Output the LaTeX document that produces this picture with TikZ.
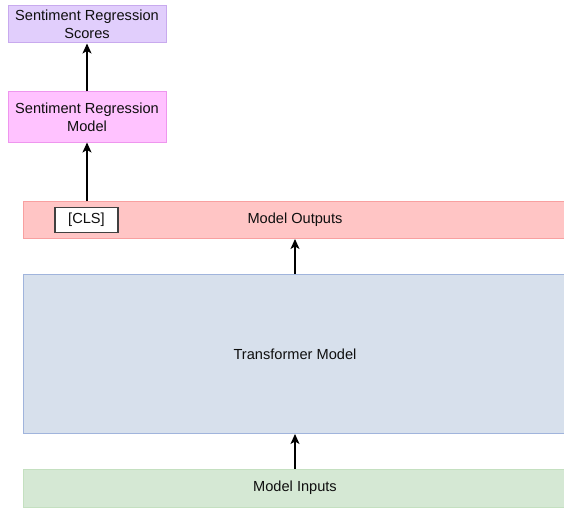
\documentclass[tikz,border=0pt]{standalone}
\usepackage{fontspec}
\setmainfont{Liberation Sans}
\usetikzlibrary{arrows.meta}
\definecolor{purfill}{RGB}{225,206,252}
\definecolor{purline}{RGB}{200,170,238}
\definecolor{pinkfill}{RGB}{255,194,255}
\definecolor{pinkline}{RGB}{238,150,238}
\definecolor{redfill}{RGB}{255,197,197}
\definecolor{redline}{RGB}{248,160,160}
\definecolor{bluefill}{RGB}{215,224,236}
\definecolor{blueline}{RGB}{160,180,220}
\definecolor{greenfill}{RGB}{213,232,212}
\definecolor{greenline}{RGB}{196,224,192}
\definecolor{txt}{RGB}{15,15,15}
\tikzset{
  box/.style={rectangle, draw, line width=1pt, inner sep=0pt, align=center,
    text=txt, font=\fontsize{14.6}{18}\selectfont},
  clsbox/.style={rectangle, draw=black!75, fill=white, line width=1.3pt, inner sep=0pt,
    text=txt, font=\fontsize{14.6}{18}\selectfont},
  conn/.style={-{Stealth[length=10pt,width=9pt,inset=2.5pt]}, line width=1.2pt, black},
}
\begin{document}
\begin{tikzpicture}[x=1pt,y=-1pt]
\useasboundingbox (0,0) rectangle (564,508);
\clip (0,0) rectangle (564,508);
\fill[white] (0,0) rectangle (564,508);
\node[box, fill=purfill, draw=purline, minimum width=158pt, minimum height=37pt] (scores) at (87,24.5) {Sentiment Regression\\Scores};
\node[box, fill=pinkfill, draw=pinkline, minimum width=158pt, minimum height=50pt] (srm) at (87,117) {Sentiment Regression\\Model};
\node[box, fill=redfill, draw=redline, minimum width=544pt, minimum height=37pt] (out) at (295,220) {Model Outputs};
\node[clsbox, minimum width=63pt, minimum height=25pt] (cls) at (86.5,220) {[CLS]};
\node[box, fill=bluefill, draw=blueline, minimum width=544pt, minimum height=159pt] (trans) at (295,354) {Transformer Model};
\node[box, fill=greenfill, draw=greenline, minimum width=544pt, minimum height=38pt] (inp) at (295,488) {Model Inputs};
\coordinate (clstop) at (out.north -| srm.south);
\draw[conn] (clstop) -- (srm.south);
\draw[conn] (srm.north) -- (scores.south);
\draw[conn] (trans.north) -- (out.south);
\draw[conn] (inp.north) -- (trans.south);
\end{tikzpicture}
\end{document}
